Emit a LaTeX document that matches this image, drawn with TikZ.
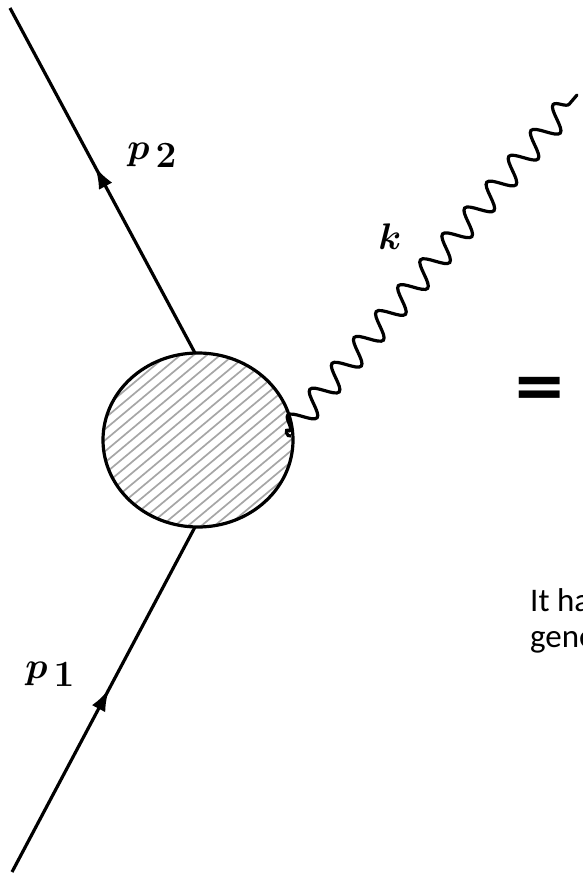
\RequirePackage{fix-cm}
\documentclass[tikz,border=0pt]{standalone}
\usepackage{fontspec}
\newfontfamily\slidefont{Carlito}
\usetikzlibrary{decorations.pathmorphing,decorations.markings,arrows.meta,calc,shapes.geometric}
\begin{document}
\begin{tikzpicture}[x=1pt,y=-1pt,
  thick line/.style={line width=3.2pt},
  fermion/.style={thick line, postaction={decorate},
    decoration={markings, mark=at position #1 with {\arrow{Latex[length=22pt,width=15pt]}}}},
  photon/.style={thick line, line cap=round, decorate,
    decoration={snake, segment length=34.04pt, amplitude=12pt}},
  hatch/.style={line width=1.7pt, gray!70},
  blobstyle/.style={ellipse, draw, line width=3.2pt, minimum width=190pt, minimum height=174pt, inner sep=0pt},
  lbl/.style={font=\fontsize{37}{37}\selectfont\boldmath, inner sep=0pt},
  slide/.style={font=\slidefont\fontsize{33}{36}\selectfont, inner sep=0pt, anchor=base west}
]
\useasboundingbox (0,0) rectangle (583,873);
\clip (0,0) rectangle (583,873);

% blob
\node[blobstyle, path picture={
   \foreach \i in {-15,...,15}{
     \draw[hatch] ($(path picture bounding box.center)+(\i*5.46,\i*6.51)+(-110,92)$) -- ++(220,-184);
   }
  }] (blob) at (198,440) {};

% coordinates
\coordinate (top) at (10,8);
\coordinate (bot) at (12,872);
\coordinate (btop) at (195,353);
\coordinate (bbot) at (195,527);
\coordinate (phs) at (290,431);
\coordinate (phe) at (577,95);

% fermion lines
\draw[fermion=0.53] (bot) -- (bbot);
\draw[fermion=0.54] (btop) -- (top);

% photon
\draw[photon] (phs) -- (phe);
\draw[thick line] (phs) .. controls (283,427) and (287,438) .. (291,436);

% labels
\node[lbl] (p2) at (152,155) {$p$\kern6pt\raisebox{-8pt}{$2$}};
\node[lbl] (p1) at (50,674) {$p$\kern6pt\raisebox{-8pt}{$1$}};
\node[lbl] (k) at (390,237) {$k$};

% equals sign
\node[font=\slidefont\bfseries\fontsize{81}{81}\selectfont, inner sep=0pt, xscale=1.2] (eq) at (540,395) {=};

% slide text
\node[slide] (t1) at (530,611) {It ha};
\node[slide] (t2) at (530,647) {gene};
\end{tikzpicture}
\end{document}
